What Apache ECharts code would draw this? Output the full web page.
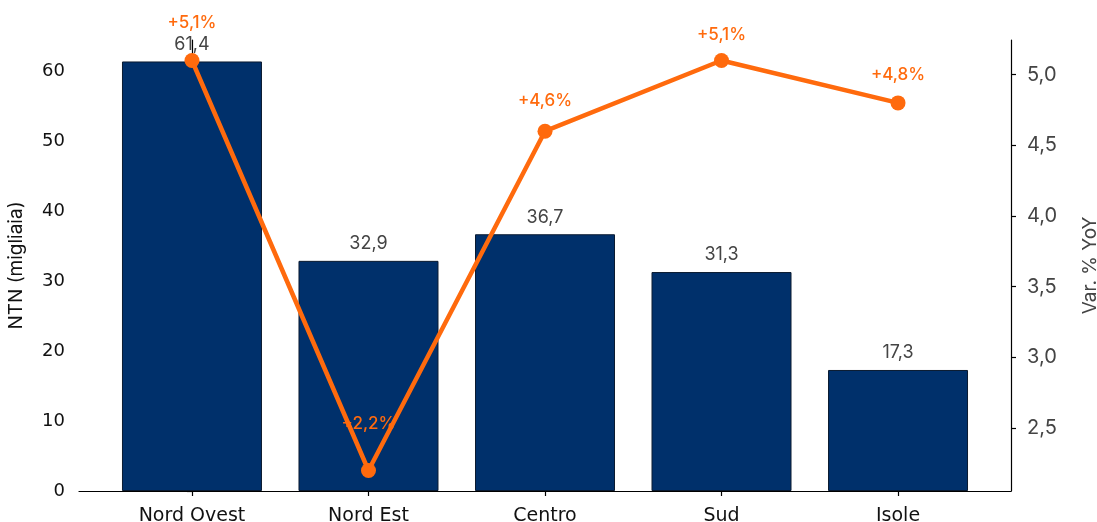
<!DOCTYPE html>
<html>
<head>
<meta charset="utf-8">
<script src="https://cdn.jsdelivr.net/npm/echarts@6/dist/echarts.min.js"></script>
<style>
html,body{margin:0;padding:0;background:#fff;}
#chart{width:1097px;height:522px;}
</style>
</head>
<body>
<div id="chart"></div>
<script>
const categories = ['Nord Ovest', 'Nord Est', 'Centro', 'Sud', 'Isole'];
const ntnValues = [61.4, 32.9, 36.7, 31.3, 17.3];
const yoyValues = [5.1, 2.2, 4.6, 5.1, 4.8];
const leftTicks = [0, 10, 20, 30, 40, 50, 60];
const rightTicks = [2.5, 3.0, 3.5, 4.0, 4.5, 5.0];

// label gaps (style only)
const yoyLabelGap = [22, 31, 14, 10, 12];

const fmtComma = (v, d) => v.toFixed(d).replace('.', ',');
const idx = categories.map((c, i) => i);

const chart = echarts.init(document.getElementById('chart'), null, {renderer: 'canvas'});
const option = {
  animation: false,
  backgroundColor: '#fff',
  grid: {left: 79, right: 86, top: 40, bottom: 31, containLabel: false, outerBoundsMode: 'none'},
  xAxis: {
    type: 'value',
    min: -0.64, max: 4.64,
    splitLine: {show: false},
    axisLine: {show: true, lineStyle: {color: '#000', width: 1.2}},
    axisTick: {show: true, customValues: idx, length: 5, lineStyle: {color: '#000', width: 1.2}},
    axisLabel: {
      customValues: idx,
      formatter: v => categories[Math.round(v)],
      color: '#111', fontSize: 19, fontFamily: 'DejaVu Sans', margin: 16
    }
  },
  yAxis: [
    {
      type: 'value', min: 0, max: 64.47,
      name: 'NTN (migliaia)', nameLocation: 'middle', nameGap: 53,
      nameTextStyle: {color: '#111', fontSize: 19, fontFamily: 'Inter'},
      splitLine: {show: false},
      axisLine: {show: true, lineStyle: {color: '#000', width: 1.2}},
      axisTick: {show: true, customValues: leftTicks, length: 5, lineStyle: {color: '#000', width: 1.2}},
      axisLabel: {customValues: leftTicks, color: '#111', fontSize: 18, fontFamily: 'DejaVu Sans', margin: 14}
    },
    {
      type: 'value', min: 2.055, max: 5.245, position: 'right',
      name: 'Var. % YoY', nameLocation: 'middle', nameGap: 70,
      nameTextStyle: {color: '#444', fontSize: 19, fontFamily: 'Inter'},
      splitLine: {show: false},
      axisLine: {show: true, lineStyle: {color: '#000', width: 1.2}},
      axisTick: {show: true, customValues: rightTicks, length: 5, lineStyle: {color: '#000', width: 1.2}},
      axisLabel: {customValues: rightTicks, formatter: v => fmtComma(v, 1), color: '#444', fontSize: 20, fontFamily: 'Inter', margin: 16}
    }
  ],
  series: [
    {
      type: 'bar',
      yAxisIndex: 0,
      barWidth: 140,
      data: ntnValues.map((v, i) => [i, v]),
      itemStyle: {color: '#00306b', borderColor: '#0a1a30', borderWidth: 1},
      label: {
        show: true, position: 'top', distance: 8,
        formatter: p => fmtComma(p.value[1], 1),
        color: '#444', fontSize: 18, fontFamily: 'Inter'
      },
      z: 2
    },
    {
      type: 'line',
      yAxisIndex: 1,
      data: yoyValues.map((v, i) => ({
        value: [i, v],
        label: {distance: yoyLabelGap[i]}
      })),
      lineStyle: {color: '#ff6a0d', width: 4.5},
      itemStyle: {color: '#ff6a0d'},
      symbol: 'circle', symbolSize: 15,
      label: {
        show: true, position: 'top',
        formatter: p => '+' + fmtComma(p.value[1], 1) + '%',
        color: '#ff6a0d', fontSize: 17, fontFamily: 'Inter', fontWeight: 500
      },
      z: 5
    }
  ]
};
chart.setOption(option);
</script>
</body>
</html>
